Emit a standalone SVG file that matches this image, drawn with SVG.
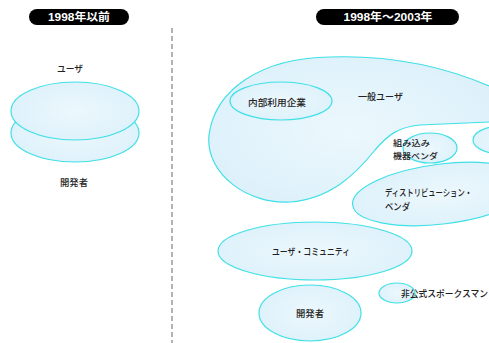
<svg xmlns="http://www.w3.org/2000/svg" width="489" height="343" viewBox="0 0 489 343">
<defs>
<radialGradient id="g" cx="50%" cy="50%" r="60%">
<stop offset="0" stop-color="#ecf8fd"/>
<stop offset="1" stop-color="#dcf0fa"/>
</radialGradient>
<style>
.s{fill:url(#g);stroke:#3fe0e6;stroke-width:1.2}
.t{font-family:"Noto Sans CJK JP","Noto Sans",sans-serif;font-size:9.5px;fill:#222;font-weight:500}
.sm{font-size:8.5px}
.h{font-family:"Liberation Sans","Noto Sans CJK JP",sans-serif;font-size:11px;fill:#fff;font-weight:bold;text-anchor:middle}
.c{text-anchor:middle}
</style>
</defs>
<rect width="489" height="343" fill="#fff"/>
<g id="header-left"><rect x="29" y="9" width="100" height="16" rx="8" fill="#000"/><text class="h" x="79" y="21" textLength="62" lengthAdjust="spacingAndGlyphs">1998年以前</text></g>
<g id="header-right"><rect x="316" y="9" width="143" height="16" rx="8" fill="#000"/><text class="h" x="388" y="21" textLength="89" lengthAdjust="spacingAndGlyphs">1998年～2003年</text></g>
<g id="divider"><line x1="172" y1="28" x2="172" y2="343" stroke="#999" stroke-width="1.5" stroke-dasharray="5 3"/></g>
<g id="old-dev"><ellipse class="s" cx="75" cy="133" rx="64" ry="29"/><text class="t c" x="74" y="186" textLength="28" lengthAdjust="spacingAndGlyphs">開発者</text></g>
<g id="old-user"><ellipse class="s" cx="75" cy="111" rx="64" ry="29"/><text class="t c" x="70" y="72" textLength="26" lengthAdjust="spacingAndGlyphs">ユーザ</text></g>
<g id="general-user"><path class="s" d="M489,86 C440,65 390,55 330,57 C260,58 215,90 209,135 C205,175 250,205 290,202 C330,199 355,175 375,150 C388,135 398,127 420,125 L489,122"/><text class="t" x="358" y="100" textLength="45" lengthAdjust="spacingAndGlyphs">一般ユーザ</text></g>
<g id="inhouse"><ellipse class="s" cx="281" cy="101" rx="51" ry="19"/><text class="t" x="248" y="106" textLength="58" lengthAdjust="spacingAndGlyphs">内部利用企業</text></g>
<g id="embedded"><ellipse class="s" cx="430" cy="148" rx="27" ry="15"/><text class="t sm" x="393" y="146" textLength="37" lengthAdjust="spacingAndGlyphs">組み込み</text><text class="t sm" x="393" y="158.5" textLength="45" lengthAdjust="spacingAndGlyphs">機器ベンダ</text></g>
<g id="other"><ellipse class="s" cx="502" cy="140" rx="29" ry="14"/></g>
<g id="distro"><ellipse class="s" cx="442" cy="194" rx="90" ry="30" transform="rotate(-7 442 194)"/><text class="t" x="385" y="196" textLength="87" lengthAdjust="spacingAndGlyphs">ディストリビューション・</text><text class="t" x="385" y="210" textLength="25" lengthAdjust="spacingAndGlyphs">ベンダ</text></g>
<g id="community"><ellipse class="s" cx="315" cy="251" rx="97" ry="29"/><text class="t" x="272" y="255" textLength="78" lengthAdjust="spacingAndGlyphs">ユーザ・コミュニティ</text></g>
<g id="developer"><ellipse class="s" cx="310" cy="313" rx="51" ry="28"/><text class="t" x="296" y="317" textLength="28" lengthAdjust="spacingAndGlyphs">開発者</text></g>
<g id="spokesman"><ellipse class="s" cx="397" cy="293" rx="18" ry="10"/><text class="t" x="401" y="297" textLength="87" lengthAdjust="spacingAndGlyphs">非公式スポークスマン</text></g>
</svg>
